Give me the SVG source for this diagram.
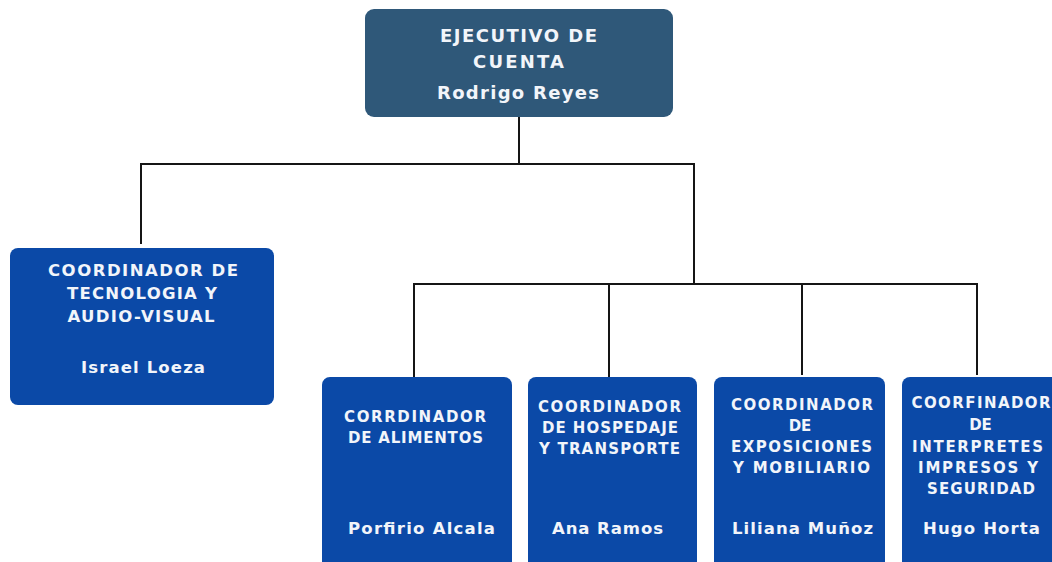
<svg xmlns="http://www.w3.org/2000/svg" width="1052" height="562" viewBox="0 0 1052 562">
<style>
.bg{fill:#ffffff}
.top{fill:#2f5879}
.box{fill:#0b49a7}
.t{font-family:"DejaVu Sans","Open Sans",sans-serif;font-weight:700;fill:#f2f5fa;text-anchor:middle}
.h{font-size:18px}
.m{font-size:16.5px}
.s{font-size:15px}
.n{font-size:16.5px}
.conn{stroke:#151515;stroke-width:2;fill:none;stroke-linecap:square}
</style>
<rect class="bg" x="0" y="0" width="1052" height="562"/>
<g id="connectors">
<path class="conn" d="M519 117 V164 M141 243 V164 H694 V284 M414 377 V284 H977 V374 M609 284 V376 M802 284 V374"/>
</g>
<g id="ejecutivo">
<rect class="top" x="365" y="9" width="308" height="108" rx="9"/>
<text class="t h" x="518.5" y="42" textLength="157" lengthAdjust="spacing">EJECUTIVO DE</text>
<text class="t h" x="518.5" y="68" textLength="91" lengthAdjust="spacing">CUENTA</text>
<text class="t h" x="518" y="99" textLength="162" lengthAdjust="spacing">Rodrigo Reyes</text>
</g>
<g id="tecnologia">
<rect class="box" x="10" y="248" width="264" height="157" rx="8"/>
<text class="t m" x="143" y="276" textLength="190" lengthAdjust="spacing">COORDINADOR DE</text>
<text class="t m" x="142" y="299" textLength="150" lengthAdjust="spacing">TECNOLOGIA Y</text>
<text class="t m" x="141" y="322" textLength="147" lengthAdjust="spacing">AUDIO-VISUAL</text>
<text class="t m" x="143" y="373" textLength="124" lengthAdjust="spacing">Israel Loeza</text>
</g>
<g id="alimentos">
<rect class="box" x="322" y="377" width="190" height="195" rx="8"/>
<text class="t s" x="415" y="422" textLength="142" lengthAdjust="spacing">CORRDINADOR</text>
<text class="t s" x="415.5" y="443" textLength="135" lengthAdjust="spacing">DE ALIMENTOS</text>
<text class="t n" x="421.5" y="534" textLength="147" lengthAdjust="spacing">Porfirio Alcala</text>
</g>
<g id="hospedaje">
<rect class="box" x="528" y="377" width="169" height="195" rx="8"/>
<text class="t s" x="609.5" y="412" textLength="143" lengthAdjust="spacing">COORDINADOR</text>
<text class="t s" x="610" y="433" textLength="136" lengthAdjust="spacing">DE HOSPEDAJE</text>
<text class="t s" x="609.5" y="454" textLength="141" lengthAdjust="spacing">Y TRANSPORTE</text>
<text class="t n" x="607.5" y="534" textLength="111" lengthAdjust="spacing">Ana Ramos</text>
</g>
<g id="exposiciones">
<rect class="box" x="714" y="377" width="171" height="195" rx="8"/>
<text class="t s" x="802" y="410" textLength="142" lengthAdjust="spacing">COORDINADOR</text>
<text class="t s" x="800" y="431">DE</text>
<text class="t s" x="801.5" y="452" textLength="141" lengthAdjust="spacing">EXPOSICIONES</text>
<text class="t s" x="801.5" y="473" textLength="137" lengthAdjust="spacing">Y MOBILIARIO</text>
<text class="t n" x="802.5" y="534" textLength="141" lengthAdjust="spacing">Liliana Muñoz</text>
</g>
<g id="interpretes">
<rect class="box" x="902" y="377" width="160" height="195" rx="8"/>
<text class="t s" x="981" y="408" textLength="139" lengthAdjust="spacing">COORFINADOR</text>
<text class="t s" x="980.5" y="430">DE</text>
<text class="t s" x="977.5" y="452" textLength="131" lengthAdjust="spacing">INTERPRETES</text>
<text class="t s" x="978" y="473" textLength="120" lengthAdjust="spacing">IMPRESOS Y</text>
<text class="t s" x="981" y="494" textLength="108" lengthAdjust="spacing">SEGURIDAD</text>
<text class="t n" x="981.5" y="534" textLength="117" lengthAdjust="spacing">Hugo Horta</text>
</g>
</svg>
